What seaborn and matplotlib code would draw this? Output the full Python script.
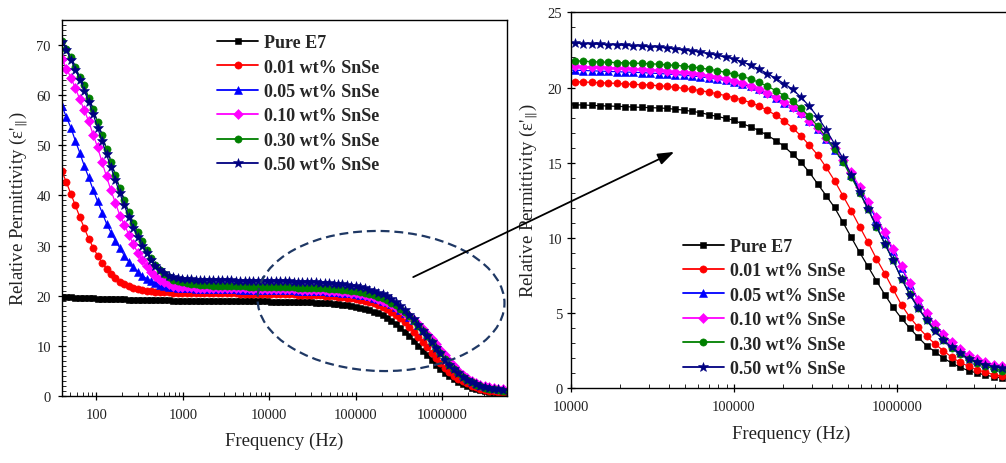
import numpy as np
import pandas as pd
import matplotlib
matplotlib.use("Agg")
import matplotlib.pyplot as plt
import seaborn as sns
from matplotlib.patches import Ellipse, FancyArrowPatch
from matplotlib.transforms import Affine2D
from matplotlib.ticker import LogLocator, FuncFormatter, NullFormatter, MultipleLocator

# ---------------- data ----------------
freq = [40.0, 45.04, 50.71, 57.10, 64.28, 72.37, 81.48, 91.74, 103.3, 116.3,
        130.9, 147.4, 165.9, 186.8, 210.3, 236.8, 266.6, 300.2, 337.9, 380.5,
        428.3, 482.3, 543.0, 611.3, 688.3, 774.9, 872.4, 982.2, 1106, 1245,
        1402, 1578, 1777, 2000, 2252, 2535, 2854, 3214, 3618, 4073,
        4586, 5163, 5813, 6545, 7368, 8296, 9340, 10515, 11839, 13329,
        15006, 16895, 19021, 21415, 24110, 27144, 30561, 34407, 38737, 43613,
        49102, 55281, 62239, 70072, 78891, 88820, 100000, 112588, 126758, 142711,
        160672, 180894, 203660, 229292, 258150, 290640, 327220, 368402, 414767, 466968,
        525738, 591906, 666400, 750271, 844697, 951007, 1070700, 1205453, 1357167, 1527975,
        1720281, 1936790, 2180549, 2454987, 2763965, 3111832, 3503481, 3944421, 4440858, 5000000]

pure_e7 = [19.75, 19.70, 19.66, 19.62, 19.58, 19.54, 19.50, 19.47, 19.44, 19.41,
           19.38, 19.35, 19.32, 19.29, 19.26, 19.23, 19.20, 19.18, 19.16, 19.14,
           19.12, 19.10, 19.08, 19.06, 19.05, 19.04, 19.03, 19.02, 19.01, 19.00,
           18.99, 18.98, 18.97, 18.96, 18.95, 18.94, 18.93, 18.92, 18.91, 18.90,
           18.89, 18.88, 18.88, 18.87, 18.86, 18.86, 18.85,
           18.84, 18.84, 18.81, 18.79, 18.77, 18.75, 18.73, 18.70, 18.68, 18.66,
           18.64, 18.61, 18.55, 18.50, 18.41, 18.33, 18.19, 18.08, 17.95, 17.82,
           17.58, 17.39, 17.12, 16.82, 16.47, 16.08, 15.56, 15.03, 14.36, 13.58,
           12.81, 12.03, 11.04, 10.04, 9.04, 8.10, 7.15, 6.23, 5.38, 4.65,
           3.99, 3.39, 2.83, 2.43, 2.01, 1.68, 1.40, 1.17, 1.02, 0.88,
           0.77, 0.68, 0.62]

snse_001 = [44.8, 42.6, 40.3, 38.0, 35.7, 33.5, 31.4, 29.6, 28.0, 26.6,
            25.4, 24.4, 23.5, 22.8, 22.3, 21.9, 21.6, 21.35, 21.15, 21.0,
            20.9, 20.82, 20.76, 20.71, 20.67, 20.64, 20.61, 20.59, 20.57, 20.55,
            20.53, 20.52, 20.51, 20.50, 20.49, 20.48, 20.47, 20.46, 20.45, 20.45,
            20.44, 20.43, 20.43, 20.42, 20.41, 20.41, 20.40,
            20.39, 20.37, 20.34, 20.32, 20.30, 20.27, 20.24, 20.21, 20.19, 20.17,
            20.12, 20.08, 20.01, 19.94, 19.88, 19.79, 19.70, 19.58, 19.46, 19.32,
            19.17, 18.99, 18.77, 18.48, 18.15, 17.77, 17.31, 16.78, 16.16, 15.51,
            14.69, 13.81, 12.81, 11.81, 10.75, 9.71, 8.62, 7.63, 6.58, 5.54,
            4.72, 4.05, 3.46, 2.95, 2.50, 2.06, 1.73, 1.46, 1.24, 1.06,
            0.91, 0.80, 0.72]

snse_005 = [57.8, 55.6, 53.5, 50.9, 48.5, 45.9, 43.6, 41.1, 38.8, 36.6,
            34.4, 32.6, 31.0, 29.5, 28.0, 26.8, 25.7, 24.8, 24.0, 23.4,
            22.9, 22.5, 22.2, 21.95, 21.8, 21.68, 21.60, 21.54, 21.49, 21.45,
            21.42, 21.39, 21.37, 21.35, 21.33, 21.31, 21.29, 21.28, 21.26, 21.25,
            21.23, 21.22, 21.21, 21.20, 21.18, 21.17, 21.16,
            21.15, 21.13, 21.11, 21.09, 21.07, 21.05, 21.03, 21.01, 20.99, 20.96,
            20.93, 20.90, 20.86, 20.82, 20.77, 20.71, 20.64, 20.56, 20.47, 20.36,
            20.23, 20.07, 19.88, 19.64, 19.30, 19.00, 18.68, 18.30, 17.78, 17.22,
            16.58, 15.85, 15.08, 14.20, 13.25, 12.27, 11.25, 10.25, 9.15, 8.00,
            6.88, 5.82, 4.93, 4.20, 3.55, 3.00, 2.53, 2.17, 1.90, 1.70,
            1.55, 1.44, 1.37]

snse_010 = [67.3, 65.3, 63.5, 61.4, 59.2, 57.0, 54.8, 52.1, 49.6, 46.6,
            43.8, 41.0, 38.5, 36.0, 34.2, 32.2, 30.3, 28.6, 27.1, 25.9,
            24.8, 23.9, 23.2, 22.7, 22.3, 22.0, 21.8, 21.72, 21.68, 21.65,
            21.62, 21.60, 21.58, 21.56, 21.54, 21.53, 21.51, 21.50, 21.49, 21.48,
            21.47, 21.46, 21.45, 21.44, 21.43, 21.42, 21.41,
            21.40, 21.38, 21.36, 21.34, 21.32, 21.30, 21.27, 21.24, 21.21, 21.18,
            21.14, 21.10, 21.05, 21.00, 20.94, 20.87, 20.79, 20.70, 20.59, 20.46,
            20.31, 20.13, 19.91, 19.65, 19.35, 19.03, 18.70, 18.28, 17.80, 17.28,
            16.65, 15.95, 15.18, 14.35, 13.40, 12.40, 11.40, 10.37, 9.26, 8.10,
            6.98, 5.90, 5.00, 4.28, 3.62, 3.06, 2.58, 2.22, 1.95, 1.74,
            1.58, 1.48, 1.42]

snse_030 = [70.8, 69.3, 67.6, 65.6, 63.6, 62.0, 59.5, 57.2, 54.6, 52.0,
            49.3, 46.7, 44.0, 41.5, 39.1, 36.7, 34.6, 32.8, 30.9, 29.1,
            27.5, 26.2, 25.1, 24.3, 23.7, 23.2, 22.9, 22.65, 22.48, 22.35,
            22.25, 22.17, 22.10, 22.05, 22.01, 21.98, 21.95, 21.93, 21.91, 21.89,
            21.87, 21.85, 21.84, 21.83, 21.81, 21.80, 21.79,
            21.78, 21.75, 21.72, 21.70, 21.68, 21.66, 21.64, 21.62, 21.60, 21.58,
            21.55, 21.51, 21.47, 21.43, 21.36, 21.30, 21.21, 21.12, 21.01, 20.88,
            20.74, 20.56, 20.34, 20.08, 19.79, 19.46, 19.12, 18.61, 18.08, 17.42,
            16.70, 15.90, 15.05, 14.05, 13.00, 11.90, 10.75, 9.60, 8.50, 7.30,
            6.25, 5.35, 4.55, 3.85, 3.22, 2.70, 2.28, 1.95, 1.68, 1.47,
            1.30, 1.17, 1.07]

snse_050 = [70.7, 69.0, 67.0, 65.1, 63.1, 60.9, 58.7, 56.2, 53.5, 50.8,
            48.2, 45.6, 43.0, 40.4, 38.0, 35.7, 33.6, 31.7, 30.0, 28.5,
            27.1, 26.0, 25.1, 24.5, 24.0, 23.7, 23.5, 23.38, 23.30, 23.24,
            23.20, 23.17, 23.14, 23.12, 23.10, 23.08, 23.06, 23.05, 23.04, 23.02,
            23.01, 23.00, 22.99, 22.98, 22.97, 22.97, 22.96,
            22.96, 22.92, 22.89, 22.87, 22.85, 22.83, 22.80, 22.78, 22.74, 22.72,
            22.67, 22.63, 22.56, 22.49, 22.43, 22.34, 22.25, 22.14, 22.01, 21.90,
            21.70, 21.48, 21.22, 20.92, 20.60, 20.25, 19.88, 19.35, 18.75, 18.02,
            17.20, 16.25, 15.30, 14.20, 13.05, 11.95, 10.78, 9.62, 8.50, 7.28,
            6.22, 5.32, 4.52, 3.80, 3.20, 2.72, 2.32, 1.98, 1.75, 1.57,
            1.44, 1.34, 1.26]

labels = ["Pure E7", "0.01 wt% SnSe", "0.05 wt% SnSe",
          "0.10 wt% SnSe", "0.30 wt% SnSe", "0.50 wt% SnSe"]
series = [pure_e7, snse_001, snse_005, snse_010, snse_030, snse_050]

# ---------------- style ----------------
colors = ["#000000", "#FF0000", "#0000FF", "#FF00FF", "#008000", "#000080"]
markers = ["s", "o", "^", "D", "o", "*"]
msizes = [4.8, 5.2, 5.4, 4.6, 5.2, 7.0]

sns.set_theme(style="ticks")
plt.rcParams["font.family"] = ["Liberation Serif", "DejaVu Serif"]
plt.rcParams["mathtext.fontset"] = "stix"

W, H = 1006, 464
fig = plt.figure(figsize=(W / 100, H / 100), dpi=100)
fig.patch.set_facecolor("white")


def px_axes(l, t, r, b):
    return fig.add_axes([l / W, 1 - b / H, (r - l) / W, (b - t) / H])


ax1 = px_axes(62, 21, 507, 397)
ax2 = px_axes(571.3, 13.3, 1010.4, 389.3)

for ax in (ax1, ax2):
    for vals, lab, c, m, ms in zip(series, labels, colors, markers, msizes):
        sns.lineplot(x=freq, y=vals, ax=ax, color=c, marker=m, markersize=ms,
                     markeredgecolor=c, markeredgewidth=0.4, linewidth=0.9,
                     errorbar=None, legend=False)
    ax.set_xscale("log")
    ax.set_facecolor("white")
    for sp in ax.spines.values():
        sp.set_linewidth(1.0)
        sp.set_color("black")

ax1.set_xlim(40, 5.6e6)
ax1.set_ylim(0, 75)
ax2.set_xlim(1e4, 5e6)
ax2.set_ylim(0, 25)

fmt = FuncFormatter(lambda v, p: f"{int(round(v))}")
for ax in (ax1, ax2):
    ax.xaxis.set_major_locator(LogLocator(base=10, numticks=12))
    ax.xaxis.set_minor_locator(LogLocator(base=10, subs=np.arange(2, 10), numticks=12))
    ax.xaxis.set_major_formatter(fmt)
    ax.xaxis.set_minor_formatter(NullFormatter())
    ax.tick_params(which="major", direction="inout", length=6, width=0.9,
                   labelsize=10.5, colors="black", labelcolor="#222222")
    ax.tick_params(which="minor", direction="in", length=3, width=0.7)
    ax.tick_params(axis="x", which="major", pad=5.5)

ax1.yaxis.set_major_locator(MultipleLocator(10))
ax1.yaxis.set_minor_locator(MultipleLocator(1))
ax1.tick_params(axis="y", which="major", pad=5.0)
ax2.yaxis.set_major_locator(MultipleLocator(5))
ax2.yaxis.set_minor_locator(MultipleLocator(1))
ax2.tick_params(axis="y", which="major", pad=3.5)

ylab = "Relative Permittivity (ε$'_{\\Vert}$)"
for ax in (ax1, ax2):
    ax.set_xlabel("Frequency (Hz)", fontsize=13.5, color="#222222", labelpad=8)
ax1.set_ylabel(ylab, fontsize=13.5, color="#222222", labelpad=4.5)
ax2.set_ylabel(ylab, fontsize=13.5, color="#222222", labelpad=5.5)

leg_kw = dict(loc="upper left", frameon=False, borderpad=0, borderaxespad=0,
              handlelength=2.3, handletextpad=0.33, labelspacing=0.41,
              prop={"family": "Liberation Serif", "weight": "bold", "size": 13.0})
leg1 = ax1.legend(ax1.get_lines()[:6], labels, bbox_to_anchor=(0.348, 0.962), **leg_kw)
leg2 = ax2.legend(ax2.get_lines()[:6], labels, bbox_to_anchor=(0.2537, 0.400), **leg_kw)
for leg in (leg1, leg2):
    for h in leg.legend_handles:
        h.set_linewidth(1.3)

# ---------------- annotations (pixel coordinates) ----------------
pix = Affine2D().scale(1 / W, 1 / H) + fig.transFigure
ell = Ellipse((381, H - 302), 247, 140, angle=-1.5, transform=pix, fill=False,
              edgecolor="#1F3864", linewidth=1.6, linestyle=(0, (4, 2.2)), zorder=10)
fig.add_artist(ell)
arr = FancyArrowPatch((410.7, H - 279.3), (676.7, H - 151.7), transform=pix,
                      arrowstyle="-|>,head_length=0.7,head_width=0.25",
                      mutation_scale=14, linewidth=1.3, color="black", zorder=11)
fig.add_artist(arr)

fig.savefig("out.png", dpi=100, facecolor="white")
